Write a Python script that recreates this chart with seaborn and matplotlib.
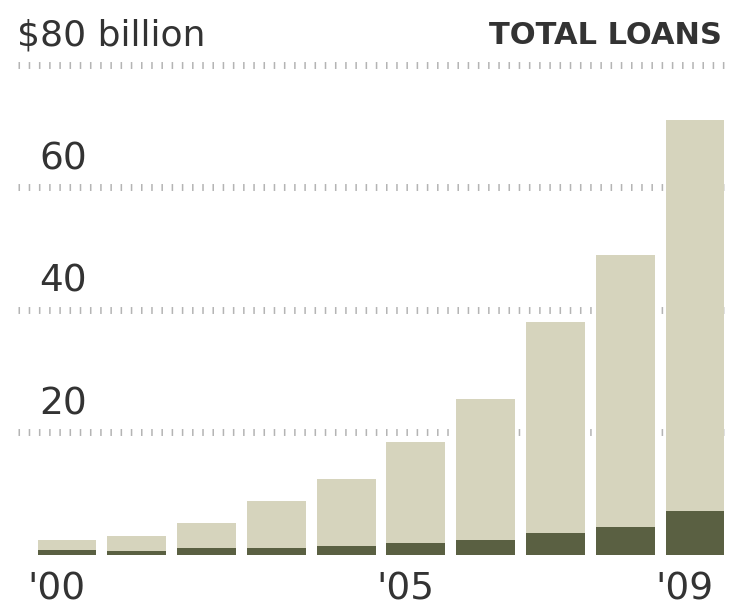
import matplotlib
matplotlib.use("Agg")
import matplotlib.pyplot as plt
import seaborn as sns
import pandas as pd

years = ["'00", "'01", "'02", "'03", "'04", "'05", "'06", "'07", "'08", "'09"]
total_loans = [2.4, 3.1, 5.2, 8.8, 12.4, 18.5, 25.5, 38.0, 49.0, 71.0]
dark_part = [0.8, 0.6, 1.1, 1.2, 1.5, 2.0, 2.4, 3.6, 4.6, 7.2]
y_ticks = [20, 40, 60, 80]
y_tick_labels = ["20", "40", "60", "$80 billion"]
x_label_years = ["'00", "'05", "'09"]

df = pd.DataFrame({"year": years, "total": total_loans, "dark": dark_part})

sns.set_theme(style="white")
plt.rcParams["font.family"] = ["DejaVu Sans"]

fig = plt.figure(figsize=(7.32, 6.10), dpi=100)
ax = fig.add_axes([0, 0.0902, 1, 0.9098])

light_c = "#d6d4bd"
dark_c = "#5a6042"
text_c = "#333333"

sns.barplot(data=df, x="year", y="total", order=years, color=light_c,
            width=0.845, saturation=1, ax=ax, zorder=2)
sns.barplot(data=df, x="year", y="dark", order=years, color=dark_c,
            width=0.845, saturation=1, ax=ax, zorder=3)
for p in ax.patches:
    p.set_edgecolor("none")

ax.set_xlim(-0.96, 9.53)
ax.set_ylim(0, 90.6)

for v in y_ticks:
    ax.hlines(v, -0.70, 9.5, colors="#b4b4b4", linestyles=(0, (0.22, 1.25)),
              linewidth=5, zorder=1)

for v, lab in zip(y_ticks, y_tick_labels):
    if v == 80:
        ax.text(-0.72, v + 4.8, lab, ha="left", va="center", fontsize=26,
                color=text_c)
    else:
        ax.text(-0.40, v + 4.6, lab, ha="left", va="center", fontsize=27,
                color=text_c)

ax.text(9.38, 84.8, "TOTAL LOANS", ha="right", va="center", fontsize=22,
        fontweight="bold", color=text_c)

for lab in x_label_years:
    i = years.index(lab)
    ax.text(i - 0.15, -5.7, lab, ha="center", va="center", fontsize=27,
            color=text_c, clip_on=False)

ax.set_xlabel("")
ax.set_ylabel("")
ax.set_xticks([])
ax.set_yticks([])
sns.despine(ax=ax, left=True, bottom=True)

fig.savefig("out.png", dpi=100)
